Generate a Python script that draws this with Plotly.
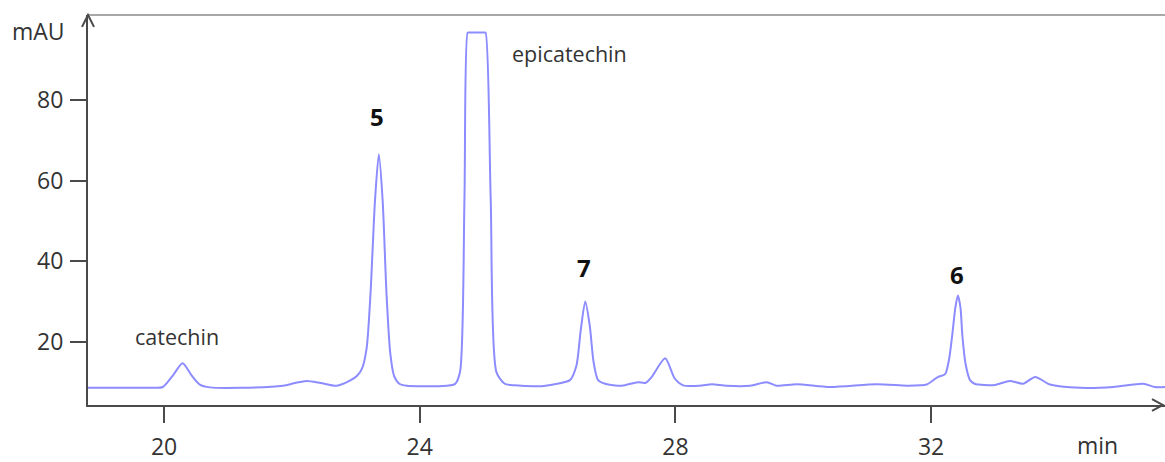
import plotly.graph_objects as go

# Retention time (min) and absorbance (mAU)
time_min = [18.81, 19.30, 19.80, 19.98, 20.14, 20.29, 20.43, 20.56, 20.72, 21.20,
            21.86, 22.05, 22.23, 22.45, 22.70, 22.90, 23.02, 23.10, 23.17, 23.23,
            23.30, 23.36, 23.42, 23.48, 23.54, 23.60, 23.68, 23.80, 24.00, 24.31,
            24.55, 24.63, 24.70, 24.75, 24.77, 25.01, 25.03, 25.11, 25.20, 25.33,
            25.49, 25.90, 26.11, 26.35, 26.45, 26.52, 26.59, 26.66, 26.72, 26.79,
            26.90, 27.16, 27.41, 27.53, 27.63, 27.84, 27.99, 28.12, 28.38, 28.57,
            28.80, 29.17, 29.43, 29.58, 29.90, 30.42, 31.15, 31.62, 31.83, 31.93,
            32.11, 32.22, 32.28, 32.33, 32.38, 32.42, 32.46, 32.49, 32.54, 32.61,
            32.68, 32.74, 33.00, 33.23, 33.44, 33.63, 33.86, 34.33, 34.85, 35.32,
            35.50, 35.66]
absorbance = [8.6, 8.6, 8.6, 8.8, 11.7, 14.7, 11.7, 9.4, 8.7, 8.6,
              9.1, 9.8, 10.3, 9.8, 9.1, 10.3, 11.6, 13.5, 18.5, 32.0,
              55.0, 66.5, 55.0, 32.0, 17.0, 11.5, 9.6, 9.1, 9.0, 9.0,
              9.5, 12.5, 55.7, 96.7, 96.7, 96.7, 96.7, 55.7, 12.5, 9.6,
              9.2, 9.0, 9.5, 10.5, 14.0, 23.0, 30.0, 24.0, 15.0, 10.5,
              9.6, 9.1, 10.0, 9.8, 11.3, 15.9, 10.9, 9.2, 9.1, 9.5,
              9.1, 9.1, 10.0, 9.1, 9.5, 8.8, 9.5, 9.1, 9.2, 9.4,
              11.3, 12.0, 15.5, 21.5, 28.5, 31.5, 28.5, 21.5, 14.5, 10.5,
              9.6, 9.4, 9.3, 10.3, 9.6, 11.3, 9.4, 8.6, 8.8, 9.6,
              8.8, 8.8]

x_ticks = [20, 24, 28, 32]
y_ticks = [20, 40, 60, 80]

peak_names = ["catechin", "epicatechin"]
peak_name_x = [20.21, 26.35]
peak_name_y = [21.2, 91.5]

peak_numbers = ["5", "7", "6"]
peak_number_x = [23.33, 26.57, 32.41]
peak_number_y = [75.9, 38.4, 36.7]

FONT = "Open Sans"
AXIS_COLOR = "#4a4a4a"
TEXT_COLOR = "#333333"

fig = go.Figure()
fig.add_trace(go.Scatter(
    x=time_min, y=absorbance, mode="lines",
    line=dict(color="#8c8cff", width=2, shape="spline", smoothing=0.7),
    hoverinfo="x+y", showlegend=False,
))

for name, x, y in zip(peak_names, peak_name_x, peak_name_y):
    fig.add_annotation(x=x, y=y, xref="x", yref="y", text=name, showarrow=False,
                       xanchor="center", yanchor="middle",
                       font=dict(family=FONT, size=21.5, color=TEXT_COLOR))
for name, x, y in zip(peak_numbers, peak_number_x, peak_number_y):
    fig.add_annotation(x=x, y=y, xref="x", yref="y", text="<b>%s</b>" % name,
                       showarrow=False, xanchor="center", yanchor="middle",
                       font=dict(family=FONT, size=24, color="#111111"))

# axis titles
fig.add_annotation(x=-0.0464, y=0.958, xref="paper", yref="paper", text="mAU",
                   showarrow=False, xanchor="center", yanchor="middle",
                   font=dict(family=FONT, size=23, color=TEXT_COLOR))
fig.add_annotation(x=0.9375, y=-0.103, xref="paper", yref="paper", text="min",
                   showarrow=False, xanchor="center", yanchor="middle",
                   font=dict(family=FONT, size=23, color=TEXT_COLOR))

W, H = 1165, 462
L, R, T, B = 88, 0, 15, 52
pw, ph = W - L - R, H - T - B

# top frame line
fig.add_shape(type="line", xref="paper", yref="paper", x0=0, x1=1, y0=1, y1=1,
              line=dict(color="#a8a8a8", width=2))
# arrow heads (chevrons) on the axes
ax_dx, ax_dy = 6 / pw, 12 / ph
fig.add_shape(type="path", xref="paper", yref="paper",
              path="M %f %f L 0 1 L %f %f" % (-ax_dx, 1 - ax_dy, ax_dx, 1 - ax_dy),
              line=dict(color=AXIS_COLOR, width=2))
tip = 1 - 2 / pw
bx, by = 11 / pw, 6 / ph
fig.add_shape(type="path", xref="paper", yref="paper",
              path="M %f %f L %f 0 L %f %f" % (tip - bx, by, tip, tip - bx, -by),
              line=dict(color=AXIS_COLOR, width=2))

fig.update_layout(
    width=W, height=H,
    margin=dict(l=L, r=R, t=T, b=B),
    plot_bgcolor="white", paper_bgcolor="white",
    font=dict(family=FONT, color=TEXT_COLOR),
    xaxis=dict(range=[18.81, 35.66], tickvals=x_ticks, ticktext=[str(v) for v in x_ticks],
               ticks="outside", ticklen=16, tickwidth=2, tickcolor=AXIS_COLOR,
               showline=True, linecolor=AXIS_COLOR, linewidth=2,
               showgrid=False, zeroline=False,
               tickfont=dict(family=FONT, size=23, color=TEXT_COLOR),
               ticklabelstandoff=4),
    yaxis=dict(range=[4.33, 101.07], tickvals=y_ticks, ticktext=[str(v) for v in y_ticks],
               ticks="outside", ticklen=16, tickwidth=2, tickcolor=AXIS_COLOR,
               showline=True, linecolor=AXIS_COLOR, linewidth=2,
               showgrid=False, zeroline=False,
               tickfont=dict(family=FONT, size=23, color=TEXT_COLOR),
               ticklabelstandoff=2),
)

fig.write_html(
    "out.html",
    config={"displayModeBar": False},
    post_script="document.body.style.margin='0';document.body.style.overflow='hidden';",
)
